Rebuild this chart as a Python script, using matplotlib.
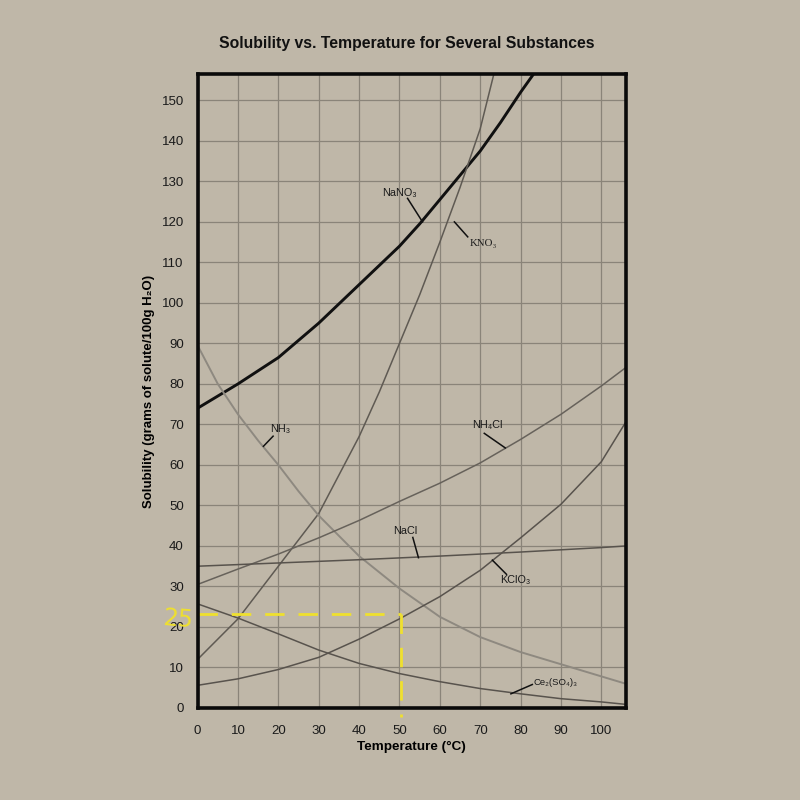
import numpy as np
import matplotlib
matplotlib.use('Agg')
import matplotlib.pyplot as plt

# solubility curves (temperature in C, grams per 100 g water)
nano3_t = [0, 10, 20, 30, 40, 50, 55, 60, 65, 70, 75, 80, 85]
nano3_s = [74, 80, 86.5, 95, 104.5, 114, 119.5, 125.5, 131.5, 137.5, 144.5, 152, 159]

kno3_t = [0, 10, 20, 30, 40, 45, 50, 55, 60, 65, 70, 75]
kno3_s = [12, 22, 35, 48, 67, 78, 90, 102, 115, 128.5, 143, 163]

nh3_t = [0, 5, 10, 15, 20, 25, 30, 40, 50, 60, 70, 80, 90, 100, 106]
nh3_s = [89.5, 80, 72.5, 66, 60, 53.5, 47.5, 37.5, 29.5, 22.5, 17.5, 13.8, 10.8, 7.8, 6]

nh4cl_t = [0, 10, 20, 30, 40, 50, 60, 70, 80, 90, 100, 106]
nh4cl_s = [30.5, 34.3, 38, 42, 46.3, 51, 55.5, 60.5, 66.3, 72.5, 79.5, 84]

nacl_t = [0, 20, 40, 60, 80, 100, 106]
nacl_s = [35, 35.8, 36.6, 37.5, 38.5, 39.6, 40]

kclo3_t = [0, 10, 20, 30, 40, 50, 60, 70, 80, 90, 100, 106]
kclo3_s = [5.6, 7.2, 9.5, 12.5, 17, 22, 27.5, 34, 42, 50.3, 60.8, 70.5]

ce_t = [0, 10, 20, 30, 40, 50, 60, 70, 80, 90, 100, 106]
ce_s = [25.7, 22.2, 18.3, 14.3, 11, 8.5, 6.5, 4.8, 3.5, 2.3, 1.5, 0.9]

x_ticks = list(range(0, 101, 10))
y_ticks = list(range(0, 151, 10))

# hand drawn yellow reading at 50 C
mark_t = 50.4
mark_s = 23.2

paper = '#bfb7a8'
sans = ['Liberation Sans', 'DejaVu Sans']
serif = ['Liberation Serif', 'DejaVu Serif']

fig = plt.figure(figsize=(8, 8), dpi=100, facecolor=paper)
ax = fig.add_axes([0.247, 0.115, 0.535, 0.7925])
ax.set_facecolor(paper)

ax.set_xlim(0, 106)
ax.set_ylim(0, 156.5)
ax.set_xticks(x_ticks)
ax.set_yticks(y_ticks)
ax.grid(True, color='#8a8479', lw=0.9)
ax.set_axisbelow(True)
ax.tick_params(length=0, labelsize=9.5, colors='#1a1a1a')
ax.tick_params(axis='x', pad=12)
ax.tick_params(axis='y', pad=10)
for lab in ax.get_xticklabels() + ax.get_yticklabels():
    lab.set_family(sans)
for sp in ax.spines.values():
    sp.set_linewidth(2.6)
    sp.set_color('#0a0a0a')

ax.plot(nano3_t, nano3_s, color='#101010', lw=2.1)
ax.plot(kno3_t, kno3_s, color='#5f5a53', lw=1.1)
ax.plot(nh3_t, nh3_s, color='#8e8980', lw=1.4)
ax.plot(nh4cl_t, nh4cl_s, color='#67625b', lw=1.1)
ax.plot(nacl_t, nacl_s, color='#58534d', lw=1.1)
ax.plot(kclo3_t, kclo3_s, color='#58534d', lw=1.1)
ax.plot(ce_t, ce_s, color='#58534d', lw=1.1)

# curve labels with pointer strokes
def tag(text, tx, ty, p0, p1, fam=sans, ha='center', size=7.8):
    ax.text(tx, ty, text, fontsize=size, ha=ha, va='center', family=fam, color='#1a1a1a')
    ax.plot([p0[0], p1[0]], [p0[1], p1[1]], color='#111111', lw=1.1)

tag('NaNO₃', 50, 127.2, (52, 125.8), (55.7, 120))
tag('KNO₃', 70.8, 114.6, (63.6, 120), (66.9, 116.3), fam=serif)
tag('NH₃', 20.4, 68.8, (18.7, 67.1), (16.3, 64.6))
tag('NH₄Cl', 71.7, 69.8, (71, 67.8), (76.2, 64.2))
tag('NaCl', 51.4, 43.6, (53.3, 42.1), (54.7, 37.1))
tag('KClO₃', 78.6, 31.6, (73, 36.5), (76.5, 33))
tag('Ce₂(SO₄)₃', 83.2, 6.2, (77.6, 3.5), (82.9, 5.8), ha='left', size=6.8)

# yellow markup
yel = '#efe02e'
ax.plot([0, mark_t], [mark_s, mark_s], color=yel, lw=2.0, dashes=(7, 5), clip_on=False)
ax.plot([mark_t, mark_t], [mark_s, -2.3], color=yel, lw=2.0, dashes=(7, 5), clip_on=False)
ax.text(-4.9, 21.8, '25', color=yel, fontsize=17, ha='center', va='center',
        family=['DejaVu Sans'], rotation=-5, clip_on=False)

ax.set_xlabel('Temperature (°C)', fontsize=9.7, fontweight='bold', family=sans, labelpad=3)
ax.set_ylabel('Solubility (grams of solute/100g H₂O)', fontsize=9.5, fontweight='bold',
              family=sans, labelpad=5)
fig.text(0.508, 0.946, 'Solubility vs. Temperature for Several Substances', fontsize=11.3,
         fontweight='bold', family=sans, ha='center', va='center', color='#111111')

fig.savefig('out.png', dpi=100, facecolor=paper)
